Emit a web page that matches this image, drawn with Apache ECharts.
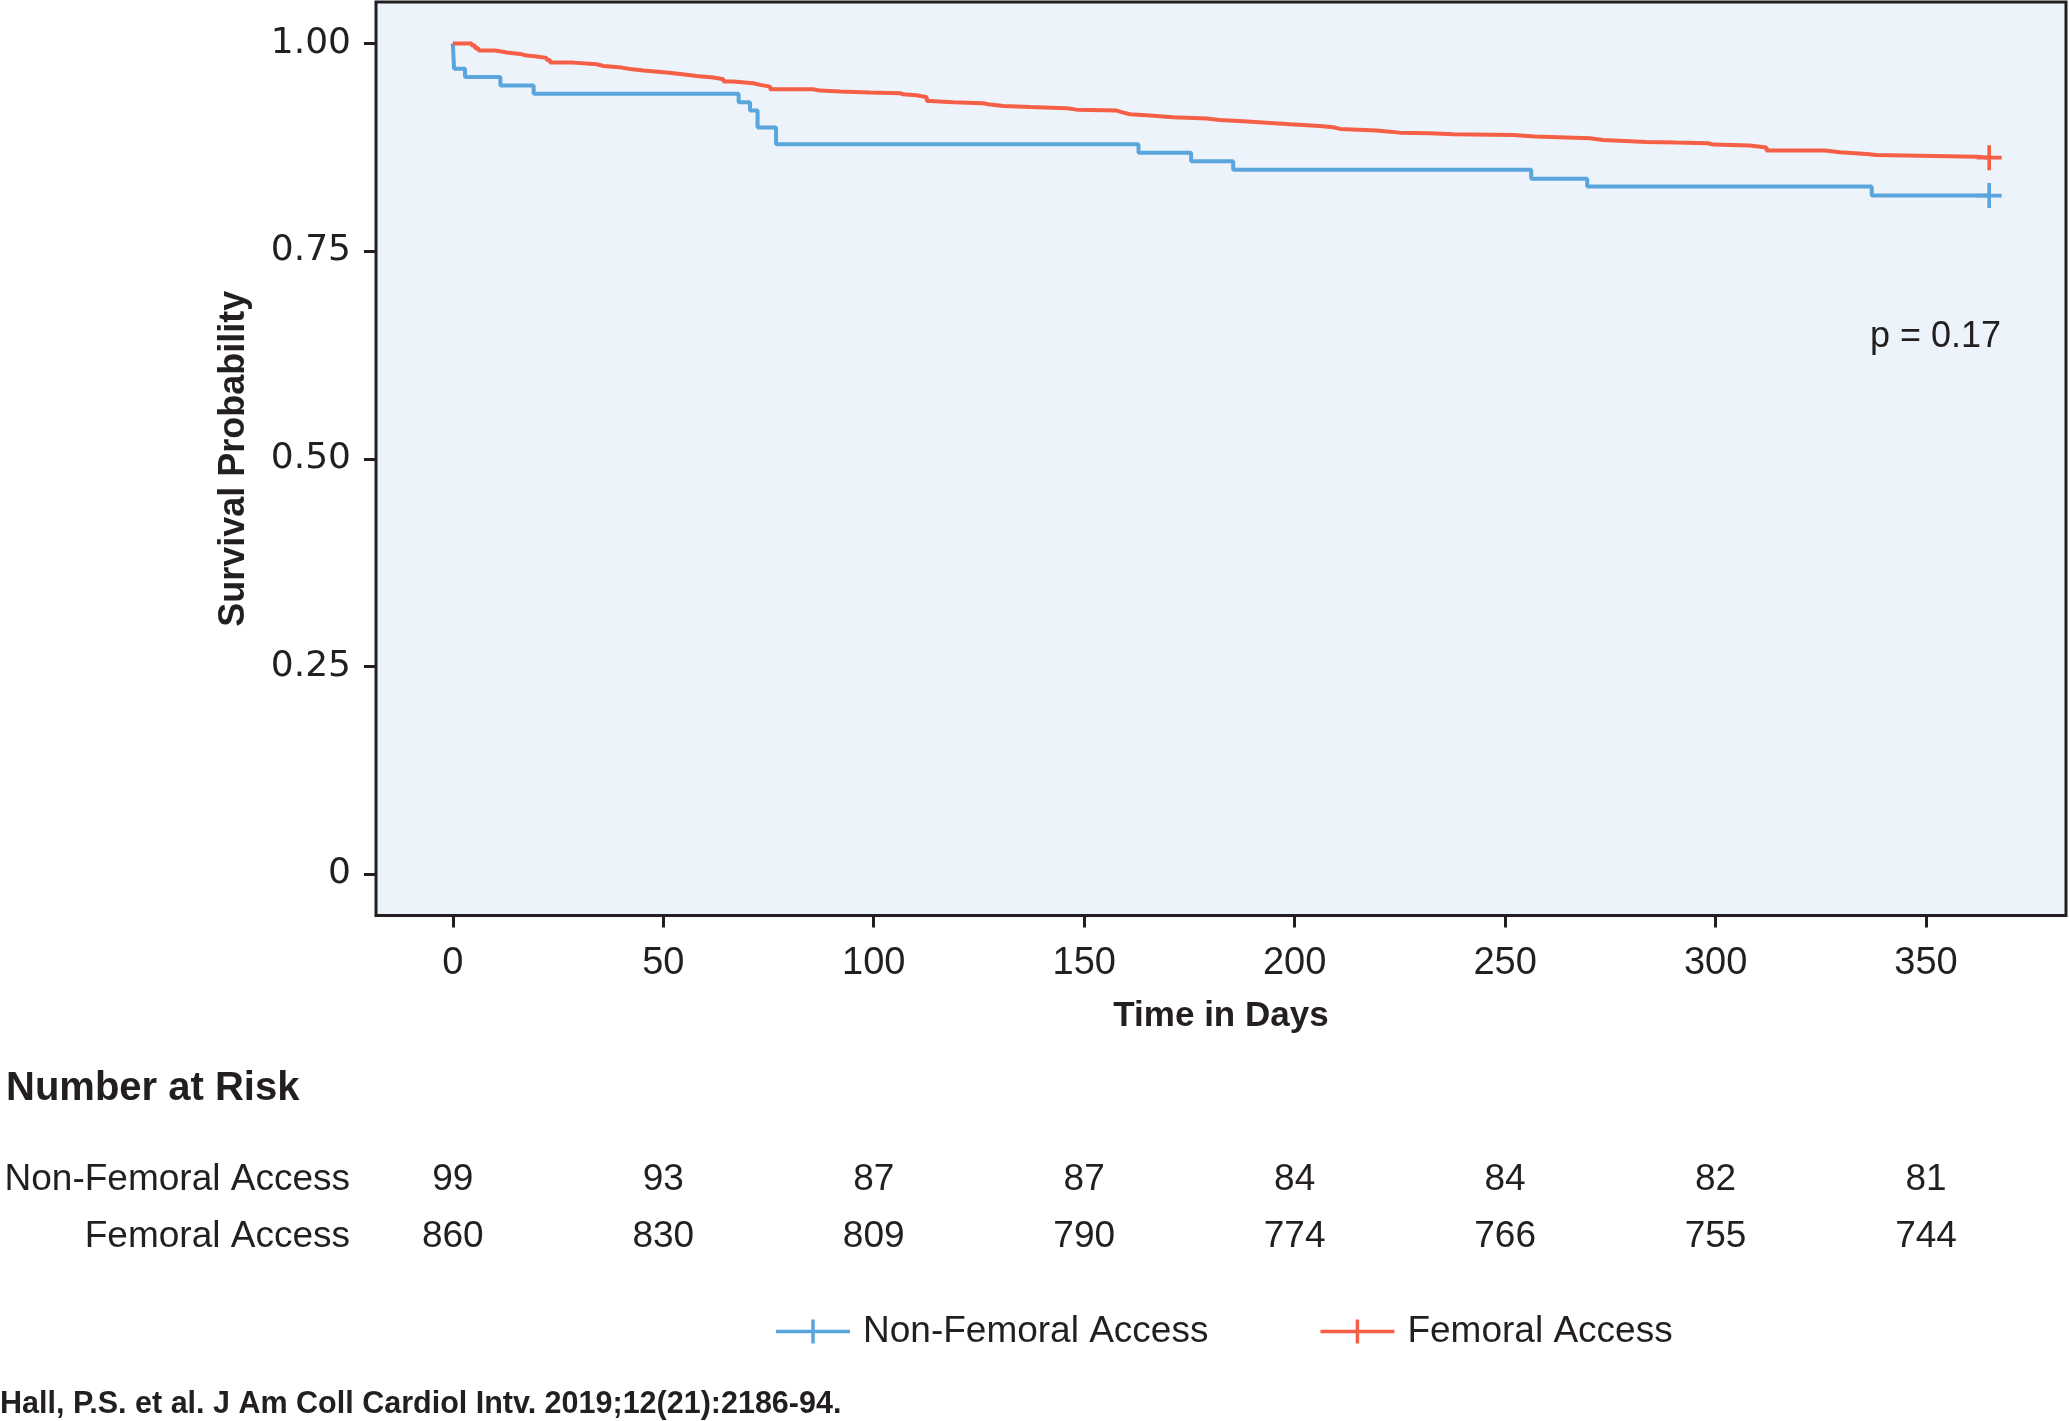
<!DOCTYPE html>
<html><head><meta charset="utf-8">
<script src="https://cdn.jsdelivr.net/npm/echarts@6/dist/echarts.min.js"></script>
<style>html,body{margin:0;padding:0;background:#fff}#c{width:2070px;height:1421px}</style>
</head><body><div id="c"></div>
<script>
// ---- data ----
const nonFemoralCurve = [
  [0,1.0],[0.3,0.9697],[2.9,0.9596],[11.3,0.9495],[19.2,0.9394],[67.9,0.9293],
  [70.6,0.9192],[72.4,0.8990],[76.8,0.8788],[162.9,0.8685],[175.4,0.8583],
  [185.4,0.8480],[256.2,0.8373],[269.5,0.8277],[337.1,0.8169],[365,0.8169]
];
const femoralCurve = [
  [0,1.0],[4.5,0.9975],[5.3,0.9943],[6.1,0.9915],[10.0,0.9907],[11.2,0.9891],
  [12.8,0.9875],[16.0,0.9859],[17.2,0.9843],[19.9,0.9827],[22.3,0.9802],[23.1,0.9770],
  [28.6,0.9750],[34.2,0.9730],[35.8,0.9710],[40.1,0.9694],[42.1,0.9674],[45.3,0.9650],
  [50.8,0.9634],[54.0,0.9610],[57.9,0.9590],[61.9,0.9570],[64.3,0.9542],[66.6,0.9522],
  [71.4,0.9502],[73.0,0.9481],[75.4,0.9449],[85.6,0.9433],[87.2,0.9421],[92.0,0.9409],
  [99.1,0.9401],[106.2,0.9389],[107.0,0.9377],[110.2,0.9353],[112.6,0.9309],[113.4,0.9293],
  [118.9,0.9281],[126.0,0.9269],[127.2,0.9249],[130.8,0.9237],[137.1,0.9221],[145.8,0.9204],
  [148.2,0.9192],[157.7,0.9168],[159.3,0.9148],[160.9,0.9132],[165.6,0.9112],[171.2,0.9096],
  [179.1,0.9080],[182.2,0.9064],[187.8,0.9048],[192.5,0.9028],[198.9,0.9008],[206.0,0.8992],
  [209.2,0.8972],[210.8,0.8952],[219.5,0.8939],[222.6,0.8927],[225.0,0.8919],[232.1,0.8907],
  [237.7,0.8899],[251.9,0.8879],[257.1,0.8859],[270.1,0.8839],[273.3,0.8815],[283.6,0.8807],
  [290.7,0.8799],[298.2,0.8783],[299.4,0.8771],[308.1,0.8747],[312.1,0.8711],[326.0,0.8690],
  [329.5,0.8670],[335.9,0.8658],[338.2,0.8638],[362.0,0.8626],[365,0.8626]
];
const censorNonFemoral = [365, 0.8169];
const censorFemoral = [365, 0.8626];
const xTicks = [0, 50, 100, 150, 200, 250, 300, 350];
const yTicks = [0, 0.25, 0.5, 0.75, 1];
const groupNames = ['Non-Femoral Access', 'Femoral Access'];
const riskTimes = [0, 50, 100, 150, 200, 250, 300, 350];
const riskNonFemoral = [99, 93, 87, 87, 84, 84, 82, 81];
const riskFemoral = [860, 830, 809, 790, 774, 766, 755, 744];
const pValueText = 'p = 0.17';
const riskTitle = 'Number at Risk';
const citation = 'Hall, P.S. et al. J Am Coll Cardiol Intv. 2019;12(21):2186-94.';

// ---- styles ----
const INK = '#231F20';
const BLUE = '#5AA5DC';
const RED = '#F45F46';
const SANS = "'Liberation Sans', Arial, sans-serif";
const ROUND = "'DejaVu Sans', sans-serif";
const PLUS = 'path://M10.25,0L13.75,0L13.75,24L10.25,24Z M0,10.25L24,10.25L24,13.75L0,13.75Z';
const LEGEND_ICON = 'path://M0,10.25L74,10.25L74,13.75L0,13.75Z M35.25,0L38.75,0L38.75,24L35.25,24Z';

const riskData = [];
riskTimes.forEach((t, i) => {
  riskData.push([t, groupNames[0], riskNonFemoral[i]]);
  riskData.push([t, groupNames[1], riskFemoral[i]]);
});

const chart = echarts.init(document.getElementById('c'), null, {renderer: 'canvas'});
chart.setOption({
  animation: false,
  backgroundColor: '#ffffff',
  grid: [
    {left: 376, right: 4, top: 2, height: 913.5, show: true, backgroundColor: '#ECF3FA',
     borderColor: INK, borderWidth: 3, containLabel: false, outerBoundsMode: 'none'},
    {left: 376, right: 4, top: 1151, height: 114, show: false, containLabel: false, outerBoundsMode: 'none'}
  ],
  xAxis: [
    {type: 'value', gridIndex: 0, min: -18.25, max: 383.25, position: 'bottom',
     axisLine: {show: false, onZero: false},
     axisTick: {show: true, inside: false, length: 12, lineStyle: {color: INK, width: 3}, customValues: xTicks},
     axisLabel: {show: true, customValues: xTicks, margin: 29, color: INK, fontSize: 38, fontFamily: SANS},
     splitLine: {show: false},
     name: 'Time in Days', nameLocation: 'middle', nameGap: 83,
     nameTextStyle: {color: INK, fontSize: 35, fontWeight: 'bold', fontFamily: SANS}},
    {type: 'value', gridIndex: 1, min: -18.25, max: 383.25, show: false,
     axisLine: {show: false, onZero: false}, axisTick: {show: false}, axisLabel: {show: false}, splitLine: {show: false}}
  ],
  yAxis: [
    {type: 'value', gridIndex: 0, min: -0.05, max: 1.05, position: 'left',
     axisLine: {show: false, onZero: false},
     axisTick: {show: true, inside: false, length: 12, lineStyle: {color: INK, width: 3}, customValues: yTicks},
     axisLabel: {show: true, customValues: yTicks, margin: 25, color: INK, fontSize: 36, fontFamily: ROUND,
       padding: [9, 0, 0, 0],
       formatter: v => (v === 0 ? '0' : v.toFixed(2))},
     splitLine: {show: false},
     name: 'Survival Probability', nameLocation: 'middle', nameGap: 124, nameRotate: 90,
     nameTextStyle: {color: INK, fontSize: 36, fontWeight: 'bold', fontFamily: SANS}},
    {type: 'category', gridIndex: 1, data: groupNames, inverse: true,
     axisLine: {show: false, onZero: false}, axisTick: {show: false}, splitLine: {show: false},
     axisLabel: {show: true, margin: 26, color: INK, fontSize: 37, fontFamily: SANS}}
  ],
  legend: {
    data: groupNames, left: 776, top: 1313, orient: 'horizontal', padding: 0,
    itemWidth: 74, itemHeight: 24, itemGap: 112, icon: LEGEND_ICON,
    itemStyle: {borderWidth: 0},
    textStyle: {color: INK, fontSize: 37, fontFamily: SANS, padding: [0, 0, 0, 8]},
    selectedMode: false
  },
  series: [
    {name: groupNames[0], type: 'line', step: 'end', xAxisIndex: 0, yAxisIndex: 0,
     data: nonFemoralCurve, showSymbol: false, symbol: 'none', color: BLUE,
     lineStyle: {color: BLUE, width: 4}, z: 3, silent: true,
     markPoint: {symbol: PLUS, symbolSize: 25, silent: true, label: {show: false},
       itemStyle: {color: BLUE}, data: [{coord: censorNonFemoral}]}},
    {name: groupNames[1], type: 'line', step: 'end', xAxisIndex: 0, yAxisIndex: 0,
     data: femoralCurve, showSymbol: false, symbol: 'none', color: RED,
     lineStyle: {color: RED, width: 4}, z: 4, silent: true,
     markPoint: {symbol: PLUS, symbolSize: 25, silent: true, label: {show: false},
       itemStyle: {color: RED}, data: [{coord: censorFemoral}]}},
    {name: 'risk', type: 'scatter', xAxisIndex: 1, yAxisIndex: 1, data: riskData,
     symbolSize: 1, itemStyle: {color: 'transparent', opacity: 1}, silent: true,
     label: {show: true, position: 'inside', color: INK, opacity: 1, fontSize: 37, fontFamily: SANS,
       formatter: p => String(p.value[2])}}
  ],
  graphic: [
    {type: 'text', x: 2001, y: 337, silent: true,
     style: {text: pValueText, fill: INK, font: "36px 'Liberation Sans', Arial, sans-serif",
       align: 'right', verticalAlign: 'middle'}},
    {type: 'text', x: 6, y: 1089, silent: true,
     style: {text: riskTitle, fill: INK, font: "bold 40px 'Liberation Sans', Arial, sans-serif",
       align: 'left', verticalAlign: 'middle'}},
    {type: 'text', x: 0, y: 1405, silent: true,
     style: {text: citation, fill: INK, font: "bold 30.5px 'Liberation Sans', Arial, sans-serif",
       align: 'left', verticalAlign: 'middle'}}
  ]
});
</script></body></html>
